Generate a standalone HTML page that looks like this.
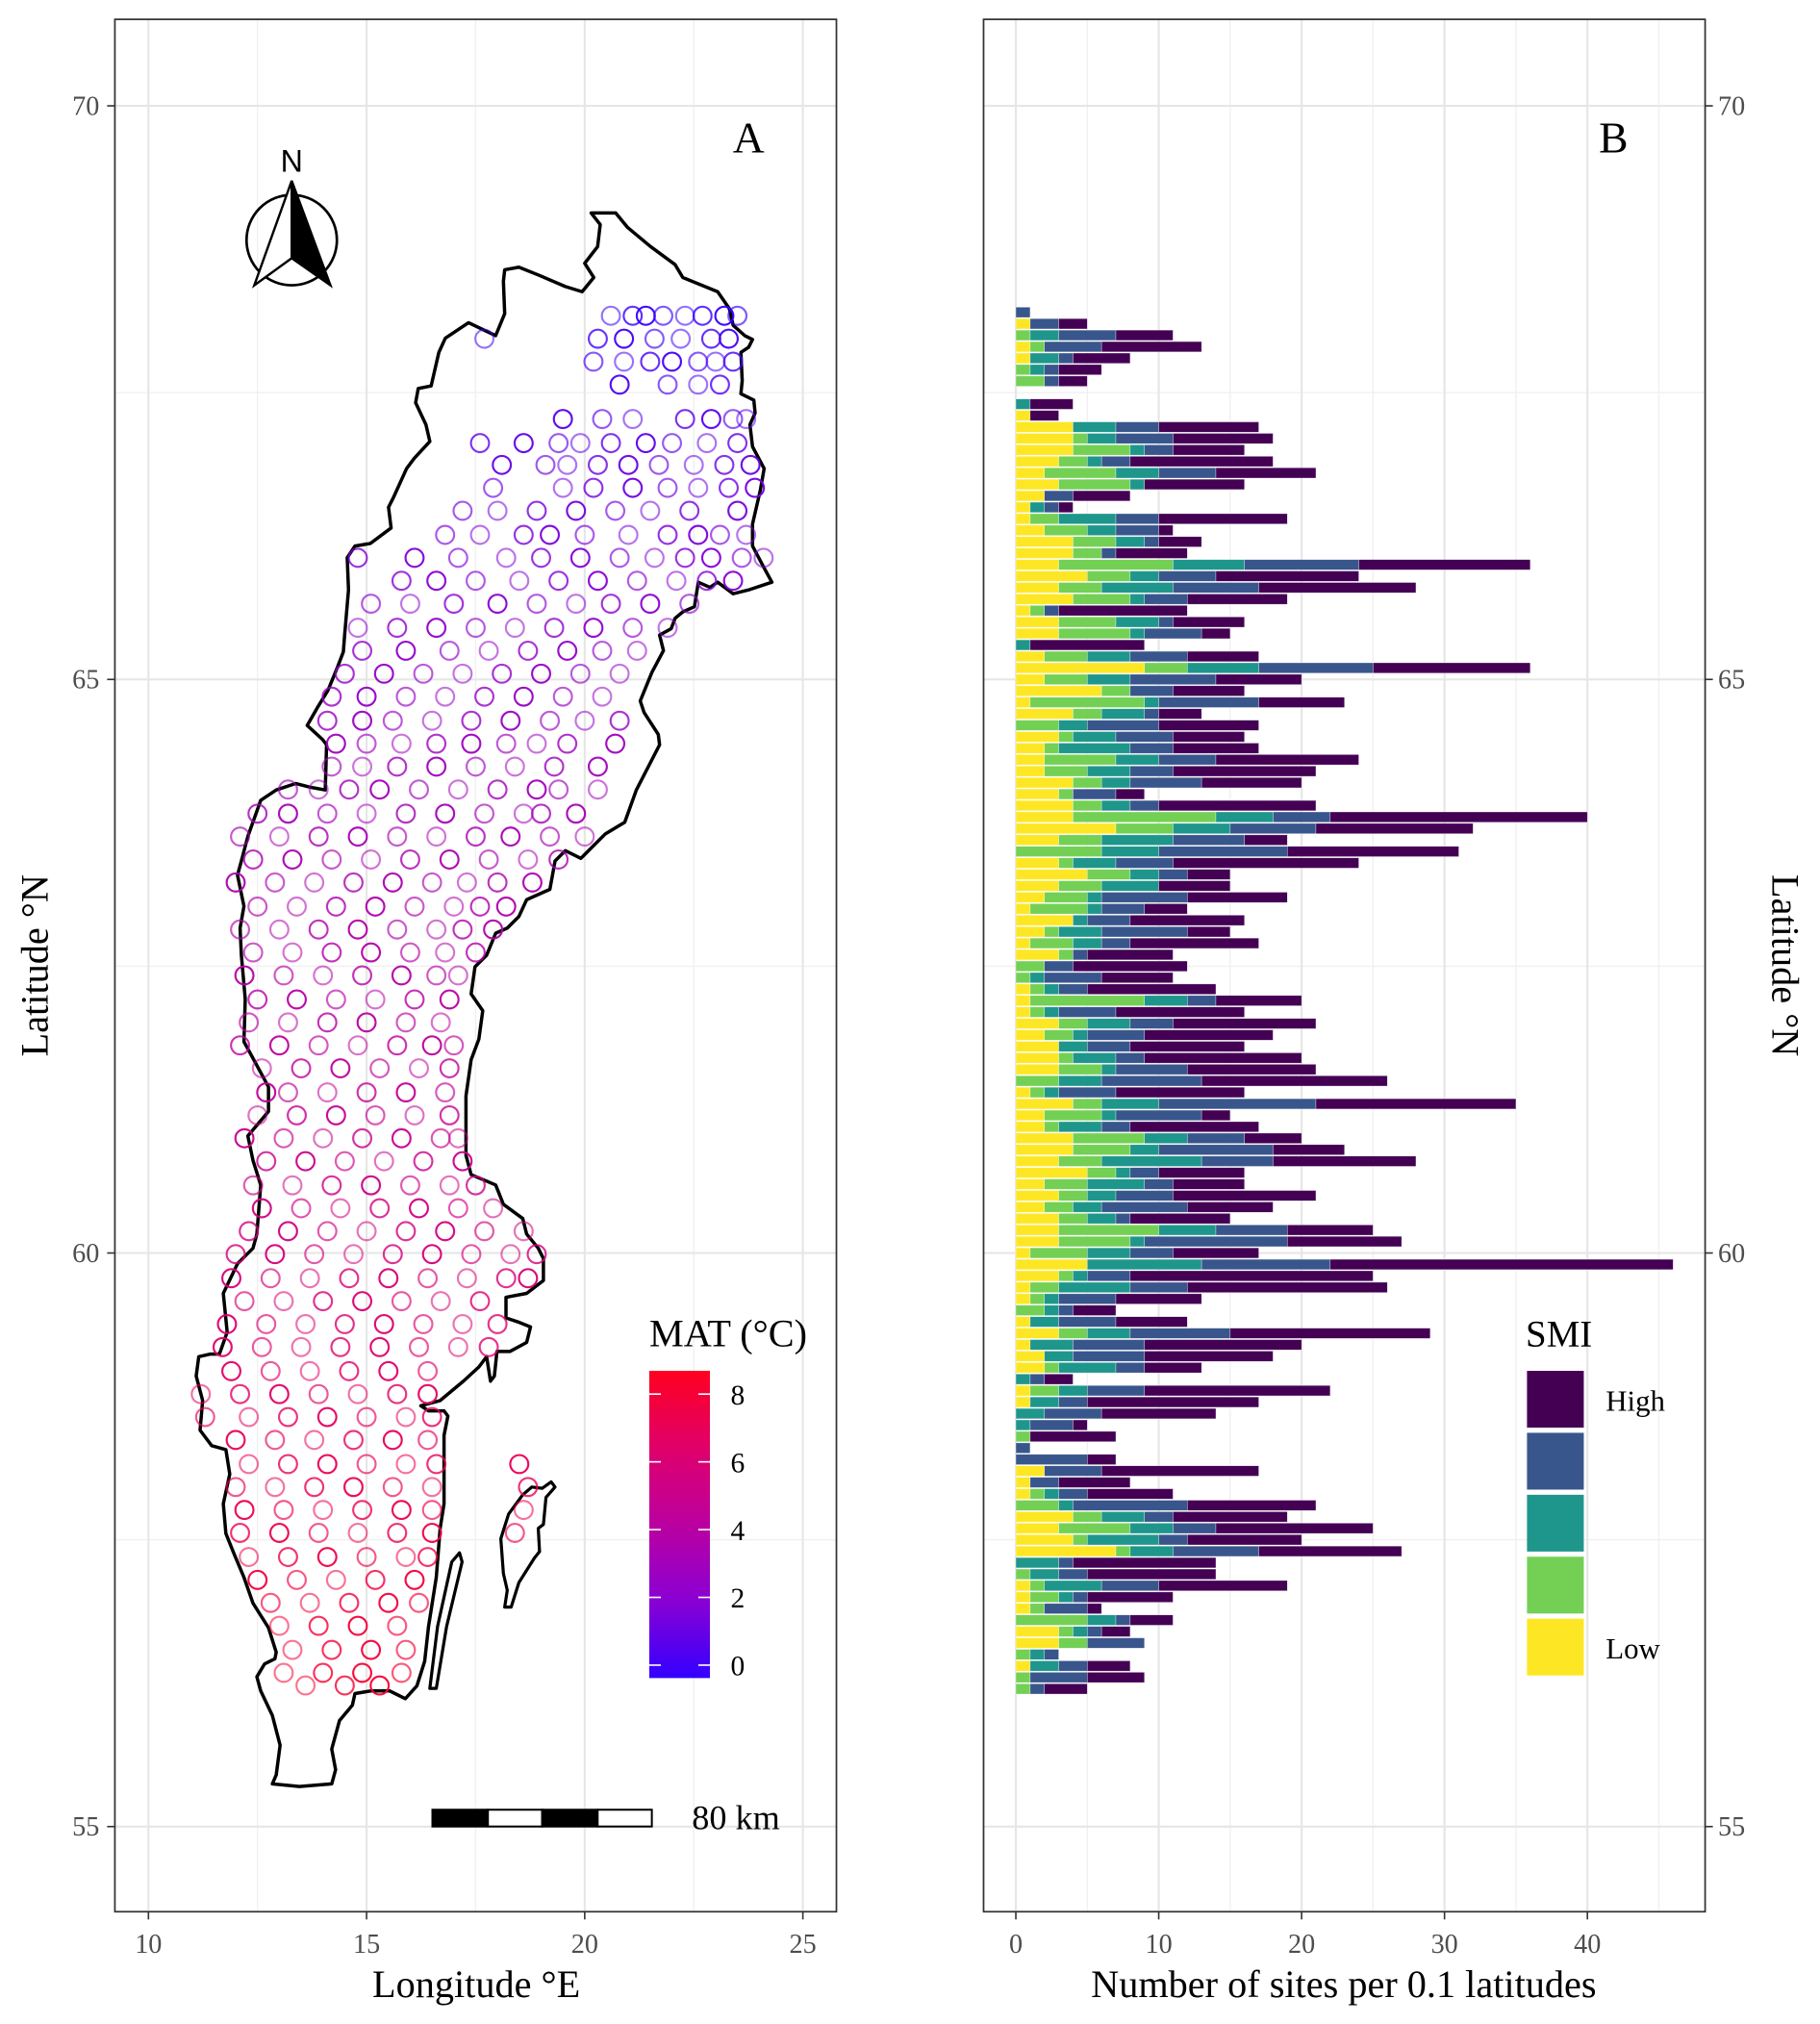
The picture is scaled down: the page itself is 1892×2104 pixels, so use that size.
<!DOCTYPE html>
<html>
<head>
<meta charset="utf-8">
<style>
html,body{margin:0;padding:0;background:#fff;}
svg{display:block;}
text{font-family:"Liberation Serif",serif;}
</style>
</head>
<body>
<svg id="fig" width="1892" height="2104" viewBox="0 0 1410 1568" preserveAspectRatio="none" xmlns="http://www.w3.org/2000/svg">
  <defs>
    <linearGradient id="matgrad" x1="0" y1="1" x2="0" y2="0">
      <stop offset="0" stop-color="#3300ff"/>
      <stop offset="0.25" stop-color="#8a00d4"/>
      <stop offset="0.5" stop-color="#bb00a0"/>
      <stop offset="0.75" stop-color="#e0006a"/>
      <stop offset="1" stop-color="#ff0020"/>
    </linearGradient>
    <clipPath id="clipA"><rect x="89" y="15" width="559" height="1466"/></clipPath>
    <clipPath id="clipB"><rect x="762" y="15" width="559" height="1466"/></clipPath>
  </defs>

  <!-- Panel A -->
  <g>
    <rect x="89" y="15" width="559" height="1466" fill="#fff"/>
    <g id="gridA"></g>
    <path id="sweden" fill="none" stroke="#000" stroke-width="2.6" stroke-linejoin="round"/>
    <path id="oland" fill="none" stroke="#000" stroke-width="2.4" stroke-linejoin="round"/>
    <path id="gotland" fill="none" stroke="#000" stroke-width="2.4" stroke-linejoin="round"/>
    <g id="points" clip-path="url(#clipA)"></g>
    <text x="580" y="118" font-size="34" text-anchor="middle">A</text>
    <g>
      <circle cx="226" cy="186" r="35" fill="none" stroke="#000" stroke-width="2"/>
      <polygon points="226,140 197,221 226,200" fill="#fff" stroke="#000" stroke-width="1.8"/>
      <polygon points="226,140 256,221 226,200" fill="#000" stroke="#000" stroke-width="1.8"/>
      <text x="226" y="133" font-size="24" text-anchor="middle" style="font-family:'Liberation Sans',sans-serif">N</text>
    </g>
    <g>
      <rect x="335" y="1402" width="43" height="13" fill="#000" stroke="#000" stroke-width="1.5"/>
      <rect x="378" y="1402" width="42" height="13" fill="#fff" stroke="#000" stroke-width="1.5"/>
      <rect x="420" y="1402" width="43" height="13" fill="#000" stroke="#000" stroke-width="1.5"/>
      <rect x="463" y="1402" width="42" height="13" fill="#fff" stroke="#000" stroke-width="1.5"/>
      <text x="536" y="1417" font-size="27">80 km</text>
    </g>
    <g>
      <text x="503" y="1043" font-size="30">MAT (°C)</text>
      <rect x="503" y="1062" width="47" height="238" fill="url(#matgrad)"/>
      <g id="matTicks"></g>
    </g>
    <rect x="89" y="15" width="559" height="1466" fill="none" stroke="#333" stroke-width="1.3"/>
    <g id="axesA"></g>
    <text x="369" y="1547" font-size="30" text-anchor="middle">Longitude °E</text>
    <text x="0" y="0" font-size="30" text-anchor="middle" transform="translate(37,748) rotate(-90)">Latitude °N</text>
  </g>

  <!-- Panel B -->
  <g>
    <rect x="762" y="15" width="559" height="1466" fill="#fff"/>
    <g id="gridB"></g>
    <g id="bars" clip-path="url(#clipB)"></g>
    <text x="1250" y="118" font-size="34" text-anchor="middle">B</text>
    <g>
      <text x="1182" y="1043" font-size="29">SMI</text>
      <rect x="1183" y="1062" width="44" height="44" fill="#440154"/>
      <rect x="1183" y="1110" width="44" height="44" fill="#39568c"/>
      <rect x="1183" y="1158" width="44" height="44" fill="#1f968b"/>
      <rect x="1183" y="1206" width="44" height="44" fill="#73d055"/>
      <rect x="1183" y="1254" width="44" height="44" fill="#fde725"/>
      <text x="1244" y="1093" font-size="23">High</text>
      <text x="1244" y="1285" font-size="23">Low</text>
    </g>
    <rect x="762" y="15" width="559" height="1466" fill="none" stroke="#333" stroke-width="1.3"/>
    <g id="axesB"></g>
    <text x="1041" y="1547" font-size="30" text-anchor="middle">Number of sites per 0.1 latitudes</text>
    <text x="0" y="0" font-size="30" text-anchor="middle" transform="translate(1373,748) rotate(90)">Latitude °N</text>
  </g>
</svg>

<script>
// ---------- Panel B data ----------
const barLat = [68.2,68.1,68.0,67.9,67.8,67.7,67.6,
67.4,67.3,67.2,67.1,67.0,66.9,66.8,66.7,66.6,66.5,66.4,66.3,66.2,66.1,66.0,65.9,65.8,65.7,65.6,65.5,65.4,65.3,65.2,65.1,
65.0,64.9,64.8,64.7,64.6,64.5,64.4,64.3,64.2,64.1,64.0,63.9,63.8,63.7,63.6,63.5,63.4,63.3,63.2,63.1,
63.0,62.9,62.8,62.7,62.6,62.5,62.4,62.3,62.2,62.1,62.0,61.9,61.8,61.7,61.6,61.5,61.4,61.3,61.2,61.1,
61.0,60.9,60.8,60.7,60.6,60.5,60.4,60.3,60.2,60.1,60.0,59.9,59.8,59.7,59.6,59.5,59.4,59.3,59.2,59.1,
59.0,58.9,58.8,58.7,58.6,58.5,58.4,58.3,58.2,58.1,58.0,57.9,57.8,57.7,57.6,57.5,57.4,57.3,57.2,57.1,
57.0,56.9,56.8,56.7,56.6,56.5,56.4,56.3,56.2];
const smiLow = [0,1,0,1,1,0,0,
0,1,4,4,4,3,2,3,2,1,1,2,4,4,3,5,3,4,1,3,3,0,2,9,
2,6,1,4,0,3,2,2,2,4,3,4,4,7,3,0,3,5,3,2,
1,4,2,1,3,0,0,1,1,1,3,2,3,3,3,0,1,4,2,2,
4,4,3,5,2,3,2,3,3,3,1,5,3,1,1,0,1,3,1,2,
2,0,1,1,0,0,0,0,0,2,1,1,0,4,3,4,7,0,0,1,
1,1,0,3,3,0,1,0,0];
const smiMidLow = [0,0,1,1,0,1,2,
0,0,0,1,4,2,5,5,0,0,2,3,3,2,8,3,3,4,1,4,5,0,3,3,
3,2,8,2,3,1,1,5,3,2,1,2,10,4,3,6,1,3,3,3,
4,0,1,3,1,2,1,1,8,1,2,2,0,1,3,3,1,2,4,1,
5,4,3,2,3,2,2,2,7,5,4,0,1,2,1,2,0,2,0,0,
1,0,2,0,0,0,1,0,0,0,0,1,3,2,5,1,1,0,1,1,
2,1,5,1,2,1,0,1,1];
const smiMid = [0,0,2,0,2,1,0,
1,0,3,2,1,1,3,1,0,1,4,2,2,0,5,2,5,1,0,3,1,1,3,5,
3,0,1,3,2,3,5,3,3,2,0,2,4,4,5,4,3,2,4,1,
1,1,3,2,0,0,1,1,3,1,3,1,2,3,1,3,1,4,1,3,
3,2,7,1,4,2,2,2,4,1,3,8,1,5,1,1,2,3,3,2,
4,1,2,2,2,1,0,0,0,0,0,1,1,3,3,5,3,3,2,4,
1,0,2,1,0,1,2,0,0];
const smiMidHigh = [1,2,4,4,1,1,1,
0,0,3,4,2,2,4,0,2,1,3,3,1,1,8,4,6,3,1,1,4,0,4,8,
6,3,7,1,5,4,3,4,3,5,3,2,4,6,5,9,4,2,0,6,
3,3,6,2,1,2,4,2,2,4,3,4,3,2,5,7,4,11,6,2,
4,8,5,2,2,4,6,1,5,10,3,9,3,4,4,1,4,7,5,5,
2,1,4,2,4,3,0,1,5,4,2,2,8,2,3,2,6,1,2,4,
1,3,1,1,4,1,2,4,1];
const smiHigh = [0,2,4,7,4,3,2,
3,2,7,7,5,10,7,7,4,1,9,1,3,5,12,10,11,7,9,5,2,8,5,11,
6,5,6,3,7,5,6,10,10,7,2,11,18,11,3,12,13,3,5,7,
3,8,3,9,6,8,5,9,6,9,10,9,8,11,9,13,9,14,2,9,
4,5,10,6,5,10,6,7,6,8,6,24,17,14,6,3,5,14,11,9,
4,2,13,12,8,1,6,0,2,11,5,6,9,8,11,8,10,10,9,9,
6,1,3,2,0,0,3,4,3];
const xTicksB = [0,10,20,30,40];
const yTickLabels = [70,65,60,55];

// ---------- Panel A data ----------
const rowLat = [68.17,67.97,67.77,67.57,67.27,67.06,66.87,66.67,66.47,66.26,66.06,65.86,65.66,65.45,65.25,65.05,64.85,64.64,64.44,64.24,64.04,63.83,63.63,63.43,63.23,63.02,62.82,62.62,62.42,62.21,62.01,61.81,61.61,61.40,61.20,61.00,60.80,60.59,60.39,60.19,59.99,59.78,59.58,59.38,59.18,58.97,58.77,58.57,58.37,58.16,57.96,57.76,57.56,57.35,57.15,56.95,56.75,56.54,56.34,56.23];
const rowLons = [
[20.6,21.1,21.4,21.8,22.3,22.7,23.2,23.5],
[17.7,20.3,20.9,21.6,22.2,22.9,23.3],
[20.2,20.9,21.5,22.0,22.6,23.0,23.4],
[20.8,21.9,22.6,23.1],
[19.5,20.4,21.1,22.3,22.9,23.4,23.7],
[17.6,18.6,19.4,19.9,20.6,21.4,22.0,22.8,23.5],
[18.1,19.1,19.6,20.3,21.0,21.7,22.5,23.2,23.8],
[17.9,19.5,20.2,21.1,21.9,22.6,23.3,23.9],
[17.2,18.0,18.9,19.8,20.7,21.5,22.4,23.5],
[16.8,17.6,18.6,19.2,20.0,21.0,21.9,22.6,23.1,23.7],
[14.8,16.1,17.1,18.2,19.0,19.9,20.8,21.6,22.3,22.9,23.6,24.1],
[15.8,16.6,17.5,18.5,19.4,20.3,21.2,22.1,22.8,23.4],
[15.1,16.0,17.0,18.0,18.9,19.8,20.6,21.5,22.4],
[14.8,15.7,16.6,17.5,18.4,19.3,20.2,21.1,21.9],
[14.9,15.9,16.9,17.8,18.7,19.6,20.4,21.2],
[14.5,15.4,16.3,17.2,18.1,19.0,19.9,20.8],
[14.2,15.0,15.9,16.8,17.7,18.6,19.5,20.4],
[14.1,14.9,15.6,16.5,17.4,18.3,19.2,20.0,20.8],
[14.3,15.0,15.8,16.6,17.4,18.2,18.9,19.6,20.7],
[14.2,14.9,15.7,16.6,17.5,18.4,19.3,20.3],
[13.2,13.9,14.6,15.3,16.2,17.1,18.0,18.9,19.4,20.3],
[12.5,13.2,14.1,15.0,15.9,16.8,17.7,18.6,19.0,19.8],
[12.1,13.0,13.9,14.8,15.7,16.6,17.5,18.3,19.2,20.0],
[12.4,13.3,14.2,15.1,16.0,16.9,17.8,18.7,19.4],
[12.0,12.9,13.8,14.7,15.6,16.5,17.3,18.0,18.8],
[12.5,13.4,14.3,15.2,16.1,17.0,17.6,18.2],
[12.1,13.0,13.9,14.8,15.7,16.6,17.2,17.9],
[12.4,13.3,14.2,15.1,16.0,16.8,17.5],
[12.2,13.1,14.0,14.9,15.8,16.6,17.1],
[12.5,13.4,14.3,15.2,16.1,16.9],
[12.3,13.2,14.1,15.0,15.9,16.7],
[12.1,13.0,13.9,14.8,15.7,16.5,17.0],
[12.6,13.5,14.4,15.3,16.2,16.9],
[12.7,13.2,14.1,15.0,15.9,16.8],
[12.5,13.4,14.3,15.2,16.1,16.9],
[12.2,13.1,14.0,14.9,15.8,16.7,17.1],
[12.7,13.6,14.5,15.4,16.3,17.2],
[12.4,13.3,14.2,15.1,16.0,16.9,17.5],
[12.6,13.5,14.4,15.3,16.2,17.1,17.9],
[12.3,13.2,14.1,15.0,15.9,16.8,17.7,18.6],
[12.0,12.9,13.8,14.7,15.6,16.5,17.4,18.3,18.9],
[11.9,12.8,13.7,14.6,15.5,16.4,17.3,18.2,18.7],
[12.2,13.1,14.0,14.9,15.8,16.7,17.6],
[11.8,12.7,13.6,14.5,15.4,16.3,17.2,18.0],
[11.7,12.6,13.5,14.4,15.3,16.2,17.1,17.8],
[11.9,12.8,13.7,14.6,15.5,16.4],
[11.2,12.1,13.0,13.9,14.8,15.7,16.4],
[11.3,12.3,13.2,14.1,15.0,15.9,16.5],
[12.0,12.9,13.8,14.7,15.6,16.4],
[12.3,13.2,14.1,15.0,15.9,16.6,18.5],
[12.0,12.9,13.8,14.7,15.6,16.5,18.7],
[12.2,13.1,14.0,14.9,15.8,16.5,18.6],
[12.1,13.0,13.9,14.8,15.7,16.5,18.4],
[12.3,13.2,14.1,15.0,15.9,16.4],
[12.5,13.4,14.3,15.2,16.1],
[12.8,13.7,14.6,15.5,16.2],
[13.0,13.9,14.8,15.7],
[13.3,14.2,15.1,15.9],
[13.1,14.0,14.9,15.8],
[13.6,14.5,15.3]
];
const rowMat = [-0.3,0.0,0.1,0.3,0.6,0.8,1.0,1.2,1.4,1.5,1.7,1.9,2.0,2.2,2.3,2.4,2.5,2.6,2.8,2.9,3.0,3.1,3.3,3.4,3.5,3.6,3.7,3.8,3.9,4.0,4.1,4.3,4.4,4.6,4.7,4.9,5.0,5.2,5.4,5.5,5.7,5.9,6.0,6.2,6.3,6.5,6.6,6.8,6.9,7.0,7.2,7.3,7.4,7.5,7.7,7.8,7.9,8.0,8.1,8.2];
const xTicksA = [10,15,20,25];
const matTicks = [0,2,4,6,8];

// ---------- helpers ----------
const NS = "http://www.w3.org/2000/svg";
function mk(tag, attrs, parent){ const e=document.createElementNS(NS,tag); for(const k in attrs) e.setAttribute(k,attrs[k]); parent.appendChild(e); return e; }
const yLat = lat => 82 + (70 - lat) * 88.87;
const xLon = lon => 115 + (lon - 10) * 33.8;
const xCnt = v => 787 + v * 11.07;
const yMat = m => 1290 - m * 26.25;

// Grid A
const gA = document.getElementById('gridA');
[12.5,17.5,22.5].forEach(l=>{ mk('line',{x1:xLon(l),x2:xLon(l),y1:15,y2:1481,stroke:'#f0f0f0','stroke-width':1},gA); });
[67.5,62.5,57.5].forEach(l=>{ mk('line',{x1:89,x2:648,y1:yLat(l),y2:yLat(l),stroke:'#f0f0f0','stroke-width':1},gA); });
xTicksA.forEach(l=>{ mk('line',{x1:xLon(l),x2:xLon(l),y1:15,y2:1481,stroke:'#e6e6e6','stroke-width':1.6},gA); });
yTickLabels.forEach(l=>{ mk('line',{x1:89,x2:648,y1:yLat(l),y2:yLat(l),stroke:'#e6e6e6','stroke-width':1.6},gA); });

// Grid B
const gB = document.getElementById('gridB');
[5,15,25,35,45].forEach(v=>{ mk('line',{x1:xCnt(v),x2:xCnt(v),y1:15,y2:1481,stroke:'#f0f0f0','stroke-width':1},gB); });
[67.5,62.5,57.5].forEach(l=>{ mk('line',{x1:762,x2:1321,y1:yLat(l),y2:yLat(l),stroke:'#f0f0f0','stroke-width':1},gB); });
xTicksB.forEach(v=>{ mk('line',{x1:xCnt(v),x2:xCnt(v),y1:15,y2:1481,stroke:'#e6e6e6','stroke-width':1.6},gB); });
yTickLabels.forEach(l=>{ mk('line',{x1:762,x2:1321,y1:yLat(l),y2:yLat(l),stroke:'#e6e6e6','stroke-width':1.6},gB); });

// Axes A
const aA = document.getElementById('axesA');
xTicksA.forEach(l=>{
  mk('line',{x1:xLon(l),x2:xLon(l),y1:1481,y2:1487,stroke:'#333','stroke-width':1.2},aA);
  const t = mk('text',{x:xLon(l),y:1513,'font-size':21,'text-anchor':'middle',fill:'#4d4d4d'},aA);
  t.textContent = l;
  
  
});
yTickLabels.forEach(l=>{
  mk('line',{x1:83,x2:89,y1:yLat(l),y2:yLat(l),stroke:'#333','stroke-width':1.2},aA);
  const t = mk('text',{x:77,y:yLat(l)+7,'font-size':21,'text-anchor':'end',fill:'#4d4d4d'},aA);
  t.textContent = l;
  
  
});

// Axes B
const aB = document.getElementById('axesB');
xTicksB.forEach(v=>{
  mk('line',{x1:xCnt(v),x2:xCnt(v),y1:1481,y2:1487,stroke:'#333','stroke-width':1.2},aB);
  const t = mk('text',{x:xCnt(v),y:1513,'font-size':21,'text-anchor':'middle',fill:'#4d4d4d'},aB);
  t.textContent = v;
  
  
});
yTickLabels.forEach(l=>{
  mk('line',{x1:1321,x2:1327,y1:yLat(l),y2:yLat(l),stroke:'#333','stroke-width':1.2},aB);
  const t = mk('text',{x:1331,y:yLat(l)+7,'font-size':21,'text-anchor':'start',fill:'#4d4d4d'},aB);
  t.textContent = l;
  
  
});

// MAT ticks
const mt = document.getElementById('matTicks');
matTicks.forEach(m=>{
  mk('line',{x1:503,x2:512,y1:yMat(m),y2:yMat(m),stroke:'#fff','stroke-width':1.2},mt);
  mk('line',{x1:541,x2:550,y1:yMat(m),y2:yMat(m),stroke:'#fff','stroke-width':1.2},mt);
  const t = mk('text',{x:566,y:yMat(m)+8,'font-size':22},mt);
  t.textContent = m;
  
  
});

// Bars
const barsG = document.getElementById('bars');
const series = [smiLow, smiMidLow, smiMid, smiMidHigh, smiHigh];
const colors = ['#fde725','#73d055','#1f968b','#39568c','#440154'];
const segNames = ['bar-low','bar-mid-low','bar-mid','bar-mid-high','bar-high'];
barLat.forEach((lat,i)=>{
  let cum = 0;
  series.forEach((s,k)=>{
    const v = s[i];
    if(v>0){
      const r = mk('rect',{x:xCnt(cum),y:yLat(lat)-4,width:xCnt(cum+v)-xCnt(cum),height:8,fill:colors[k],stroke:'#ffffff','stroke-width':0.4,'stroke-opacity':0.6},barsG);
      
      
    }
    cum += v;
  });
});

// Points
function hex(c){return [parseInt(c.slice(1,3),16),parseInt(c.slice(3,5),16),parseInt(c.slice(5,7),16)];}
const stops = ['#3300ff','#8a00d4','#bb00a0','#e0006a','#ff0020'].map(hex);
function matColor(m){
  let t = (m + 0.38) / 9.07; t = Math.max(0,Math.min(1,t));
  const p = t*4, i = Math.min(3,Math.floor(p)), f = p - i;
  const a = stops[i], b = stops[i+1];
  return 'rgb(' + [0,1,2].map(j=>Math.round(a[j]+(b[j]-a[j])*f)).join(',') + ')';
}
const ptsG = document.getElementById('points');
const opac = [0.55,0.8,0.95,0.65];
let n = 0;
rowLat.forEach((lat,r)=>{
  const col = matColor(rowMat[r]);
  rowLons[r].forEach((lon,j)=>{
    const c = mk('circle',{cx:xLon(lon),cy:yLat(lat),r:7,fill:'none',stroke:col,'stroke-width':1.6,'stroke-opacity':opac[n%4]},ptsG);
    
    
    n++;
  });
});

// Outline
const sw = [[458,165],[477,165],[486,176],[504,191],[523,205],[529,215],[556,226],[565,239],[568,252],[577,260],[583,263],[580,269],[574,273],[575,295],[574,305],[584,310],[585,320],[581,329],[583,346],[592,363],[589,380],[583,406],[583,423],[592,440],[598,451],[580,457],[568,460],[556,451],[550,455],[541,451],[538,470],[529,474],[523,479],[520,487],[511,492],[514,504],[505,521],[496,543],[499,552],[510,569],[511,577],[493,612],[484,637],[469,646],[460,655],[450,665],[438,659],[430,667],[426,689],[408,697],[402,710],[393,719],[384,723],[377,740],[368,749],[365,770],[374,783],[371,805],[365,821],[361,849],[361,895],[365,910],[384,918],[390,933],[405,944],[408,956],[417,967],[421,975],[421,992],[408,1002],[392,1005],[392,1021],[401,1024],[411,1028],[408,1040],[395,1047],[385,1047],[383,1066],[380,1070],[377,1051],[371,1059],[359,1070],[341,1085],[326,1089],[332,1093],[344,1093],[347,1097],[344,1112],[344,1135],[344,1165],[341,1184],[338,1222],[332,1260],[329,1287],[323,1306],[314,1316],[302,1310],[287,1310],[275,1312],[273,1321],[263,1333],[257,1355],[260,1371],[257,1382],[232,1384],[211,1382],[214,1375],[217,1352],[211,1329],[202,1310],[199,1299],[205,1289],[213,1285],[214,1280],[208,1261],[196,1242],[189,1222],[181,1203],[175,1188],[173,1165],[178,1142],[175,1123],[164,1120],[155,1108],[157,1085],[152,1066],[154,1051],[163,1049],[170,1049],[176,1032],[173,1002],[184,979],[196,967],[199,956],[202,918],[196,899],[192,880],[208,861],[208,842],[189,807],[190,774],[187,740],[186,719],[189,702],[184,678],[187,667],[192,648],[202,620],[214,612],[229,607],[241,610],[252,612],[253,577],[250,573],[238,562],[246,548],[254,535],[261,518],[266,505],[267,492],[270,457],[269,432],[275,423],[287,421],[303,409],[301,393],[305,385],[315,363],[321,355],[333,342],[330,329],[322,312],[324,301],[334,299],[340,273],[345,262],[363,250],[384,260],[391,243],[390,218],[391,209],[402,207],[417,213],[438,222],[451,226],[460,215],[453,204],[463,191],[465,174]];
const ol = [[356,1203],[358,1210],[346,1260],[338,1308],[333,1308],[339,1260],[350,1210]];
const gl = [[427,1148],[430,1152],[423,1160],[421,1181],[417,1184],[418,1202],[414,1207],[402,1226],[396,1245],[391,1245],[393,1232],[390,1219],[388,1192],[394,1173],[405,1158],[412,1152],[420,1153]];
const toPath = pts => 'M' + pts.map(p=>p[0]+','+p[1]).join(' L') + ' Z';
document.getElementById('sweden').setAttribute('d', toPath(sw));
document.getElementById('oland').setAttribute('d', toPath(ol));
document.getElementById('gotland').setAttribute('d', toPath(gl));
</script>
</body>
</html>
